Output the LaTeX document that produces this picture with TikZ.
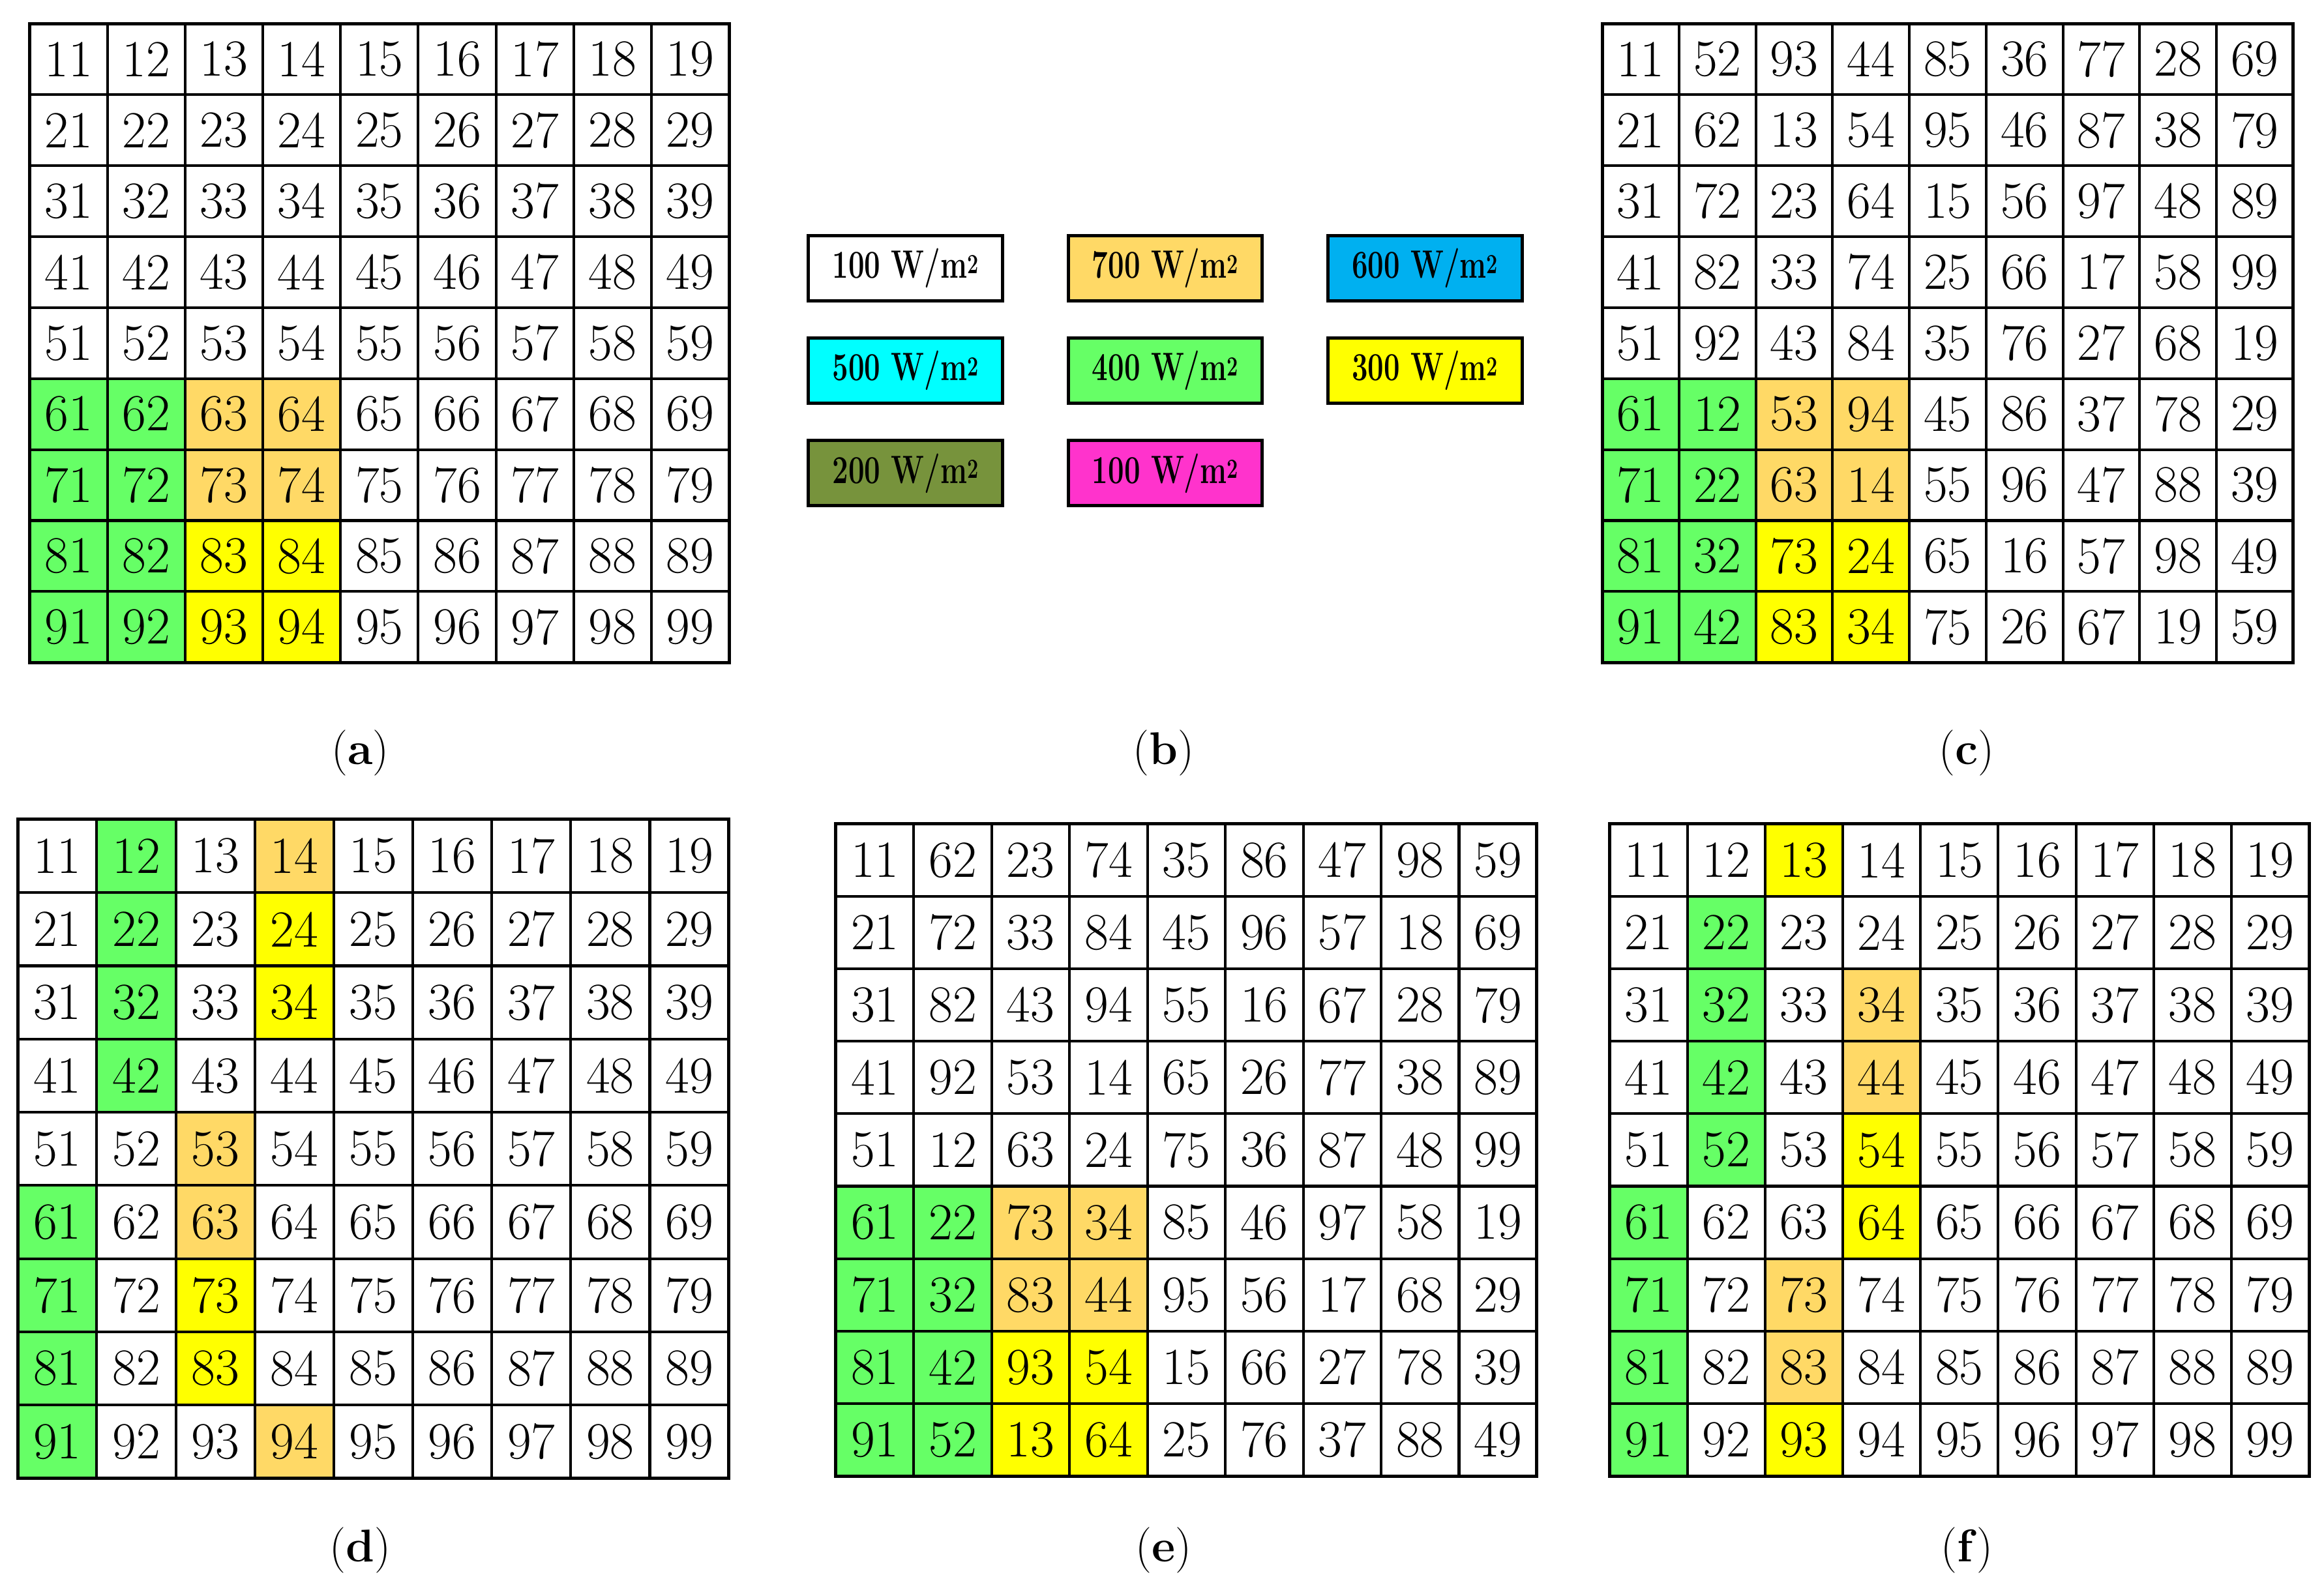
\documentclass[tikz,border=0pt]{standalone}
\usepackage{graphicx}
\usetikzlibrary{positioning}
\definecolor{cgreen}{HTML}{66FF66}
\definecolor{corange}{HTML}{FFD966}
\definecolor{cblue}{HTML}{00B0F0}
\definecolor{colive}{HTML}{77933C}
\definecolor{cpink}{HTML}{FF33CC}
\definecolor{ccyan}{HTML}{00FFFF}
\definecolor{cyellow}{HTML}{FFFF00}

% one grid: name, left, top, cell width, cell height, rows, coloured cells
\newcommand\cellgrid[7]{%
  \foreach \c/\r/\col in {#7}
    \fill[\col] ({#2+(\c-1)*#4},{#3+(\r-1)*#5}) rectangle ++(#4,#5);
  \foreach \row [count=\r] in {#6}
    \foreach \v [count=\c] in \row
      \node (#1-\r-\c) [cell, minimum width=#4mm, minimum height=#5mm]
        at ({#2+(\c-0.5)*#4},{#3+(\r-0.5)*#5}) {\v};
  \draw[frame] (#2,#3) rectangle ({#2+9*#4},{#3+9*#5});
}
\newcommand\stdrows{{11,12,13,14,15,16,17,18,19},{21,22,23,24,25,26,27,28,29},
  {31,32,33,34,35,36,37,38,39},{41,42,43,44,45,46,47,48,49},
  {51,52,53,54,55,56,57,58,59},{61,62,63,64,65,66,67,68,69},
  {71,72,73,74,75,76,77,78,79},{81,82,83,84,85,86,87,88,89},
  {91,92,93,94,95,96,97,98,99}}
\newcommand\blockcols{1/6/cgreen,2/6/cgreen,1/7/cgreen,2/7/cgreen,1/8/cgreen,2/8/cgreen,
  1/9/cgreen,2/9/cgreen,3/6/corange,4/6/corange,3/7/corange,4/7/corange,
  3/8/cyellow,4/8/cyellow,3/9/cyellow,4/9/cyellow}
\newcommand\wm[1]{\scalebox{.72}[1]{#1 W/m\textsuperscript{2}}}

\begin{document}
\begin{tikzpicture}[x=1mm, y=-1mm,
    cell/.style = {draw, line width=1.8mm, inner sep=0pt,
                   font=\fontsize{100}{100}\selectfont},
   frame/.style = {line width=2.2mm},
  legend/.style = {draw, line width=2.2mm, minimum width=131mm, minimum height=44mm,
                   inner sep=0pt, font=\fontsize{76}{76}\selectfont\bfseries},
     sub/.style = {font=\fontsize{88}{88}\selectfont}
                    ]
\useasboundingbox (0,0) rectangle (1568,1074);
% (a)
\edef\tmp{\noexpand\cellgrid{a}{20}{16}{52.44}{47.9}{\unexpanded\expandafter{\stdrows}}{\blockcols}}\tmp
% (c)
\edef\tmp{\noexpand\cellgrid{c}{1081}{16}{51.8}{47.9}{%
  {11,52,93,44,85,36,77,28,69},{21,62,13,54,95,46,87,38,79},
  {31,72,23,64,15,56,97,48,89},{41,82,33,74,25,66,17,58,99},
  {51,92,43,84,35,76,27,68,19},{61,12,53,94,45,86,37,78,29},
  {71,22,63,14,55,96,47,88,39},{81,32,73,24,65,16,57,98,49},
  {91,42,83,34,75,26,67,19,59}}{\blockcols}}\tmp
% (d)
\edef\tmp{\noexpand\cellgrid{d}{12}{553}{53.3}{49.4}{\unexpanded\expandafter{\stdrows}}{%
  2/1/cgreen,2/2/cgreen,2/3/cgreen,2/4/cgreen,1/6/cgreen,1/7/cgreen,1/8/cgreen,1/9/cgreen,
  4/1/corange,4/2/cyellow,4/3/cyellow,3/5/corange,3/6/corange,3/7/cyellow,3/8/cyellow,
  4/9/corange}}\tmp
% (e)
\edef\tmp{\noexpand\cellgrid{e}{564}{556}{52.55}{48.9}{%
  {11,62,23,74,35,86,47,98,59},{21,72,33,84,45,96,57,18,69},
  {31,82,43,94,55,16,67,28,79},{41,92,53,14,65,26,77,38,89},
  {51,12,63,24,75,36,87,48,99},{61,22,73,34,85,46,97,58,19},
  {71,32,83,44,95,56,17,68,29},{81,42,93,54,15,66,27,78,39},
  {91,52,13,64,25,76,37,88,49}}{\blockcols}}\tmp
% (f)
\edef\tmp{\noexpand\cellgrid{f}{1086}{556}{52.44}{48.9}{\unexpanded\expandafter{\stdrows}}{%
  3/1/cyellow,2/2/cgreen,2/3/cgreen,2/4/cgreen,2/5/cgreen,4/3/corange,4/4/corange,
  4/5/cyellow,4/6/cyellow,1/6/cgreen,1/7/cgreen,1/8/cgreen,1/9/cgreen,
  3/7/corange,3/8/corange,3/9/cyellow}}\tmp
% legend
\node (l1) [legend, fill=white]  at (611,181) {\wm{100}};
\node (l2) [legend, fill=corange, right=42mm of l1] {\wm{700}};
\node (l3) [legend, fill=cblue,   right=42mm of l2] {\wm{600}};
\node (l4) [legend, fill=ccyan,   below=23mm of l1] {\wm{500}};
\node (l5) [legend, fill=cgreen,  below=23mm of l2] {\wm{400}};
\node (l6) [legend, fill=cyellow, below=23mm of l3] {\wm{300}};
\node (l7) [legend, fill=colive,  below=23mm of l4] {\wm{200}};
\node (l8) [legend, fill=cpink,   below=23mm of l5] {\wm{100}};
% captions
\node (ca) [sub] at (243,508)  {(\textbf{a})};
\node (cb) [sub] at (785,508)  {(\textbf{b})};
\node (cc) [sub] at (1327,508) {(\textbf{c})};
\node (cd) [sub] at (243,1046) {(\textbf{d})};
\node (ce) [sub] at (785,1046) {(\textbf{e})};
\node (cf) [sub] at (1327,1046){(\textbf{f})};
\end{tikzpicture}
\end{document}
